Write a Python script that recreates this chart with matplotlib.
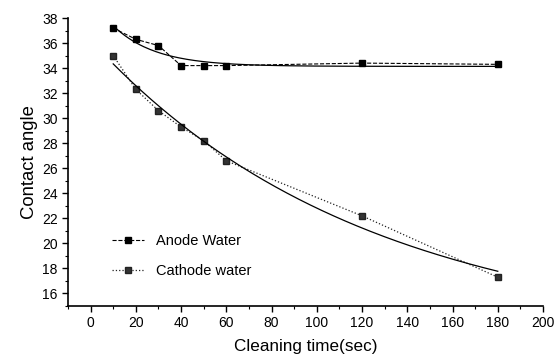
import numpy as np
import matplotlib
matplotlib.use("Agg")
import matplotlib.pyplot as plt
from matplotlib.ticker import MultipleLocator

plt.rcParams['font.family'] = ['Liberation Sans', 'DejaVu Sans']

time_sec = [10, 20, 30, 40, 50, 60, 120, 180]
anode_water = [37.2, 36.3, 35.8, 34.2, 34.2, 34.2, 34.4, 34.3]
cathode_water = [35.0, 32.3, 30.6, 29.3, 28.2, 26.6, 22.2, 17.3]

x_ticks = [0, 20, 40, 60, 80, 100, 120, 140, 160, 180, 200]
y_ticks = [16, 18, 20, 22, 24, 26, 28, 30, 32, 34, 36, 38]


def exp_fit(x, y):
    x = np.asarray(x, float)
    y = np.asarray(y, float)
    best = None
    for tau in np.linspace(5, 500, 2000):
        A = np.column_stack([np.ones_like(x), np.exp(-x / tau)])
        coef, *_ = np.linalg.lstsq(A, y, rcond=None)
        err = np.sum((A @ coef - y) ** 2)
        if best is None or err < best[0]:
            best = (err, tau, coef)
    _, tau, coef = best
    return lambda t: coef[0] + coef[1] * np.exp(-t / tau)


fig = plt.figure(figsize=(5.59, 3.56), dpi=100)
ax = fig.add_axes([0.1216, 0.1404, 0.8498, 0.809])

ax.plot(time_sec, anode_water, color='black', linestyle='--', linewidth=0.8,
        marker='s', markersize=5, label='Anode Water')
ax.plot(time_sec, cathode_water, color='#222222', linestyle=':', linewidth=0.9,
        marker='s', markersize=5, markerfacecolor='#333333', label='Cathode water')

xs = np.linspace(10, 180, 200)
fa = exp_fit(time_sec, anode_water)
fc = exp_fit(time_sec, cathode_water)
ax.plot(xs, fa(xs), color='black', linewidth=0.9)
ax.plot(xs, fc(xs), color='black', linewidth=0.9)

ax.set_xlim(-10, 200)
ax.set_ylim(15, 38)
ax.set_xticks(x_ticks)
ax.set_yticks(y_ticks)
ax.xaxis.set_minor_locator(MultipleLocator(10))
ax.yaxis.set_minor_locator(MultipleLocator(1))
ax.tick_params(axis='both', which='major', direction='out', length=4, width=1, labelsize=10)
ax.tick_params(axis='both', which='minor', direction='out', length=2, width=0.8)
for s in ['top', 'right']:
    ax.spines[s].set_visible(False)
for s in ['left', 'bottom']:
    ax.spines[s].set_linewidth(1.2)

ax.set_xlabel('Cleaning time(sec)', fontsize=12.3, labelpad=6)
ax.set_ylabel('Contact angle', fontsize=13.3, labelpad=3)

ax.legend(loc='lower left', bbox_to_anchor=(0.065, 0.05), frameon=False,
          fontsize=10.5, handlelength=2.2, labelspacing=1.1)

fig.savefig('out.png', dpi=100)
